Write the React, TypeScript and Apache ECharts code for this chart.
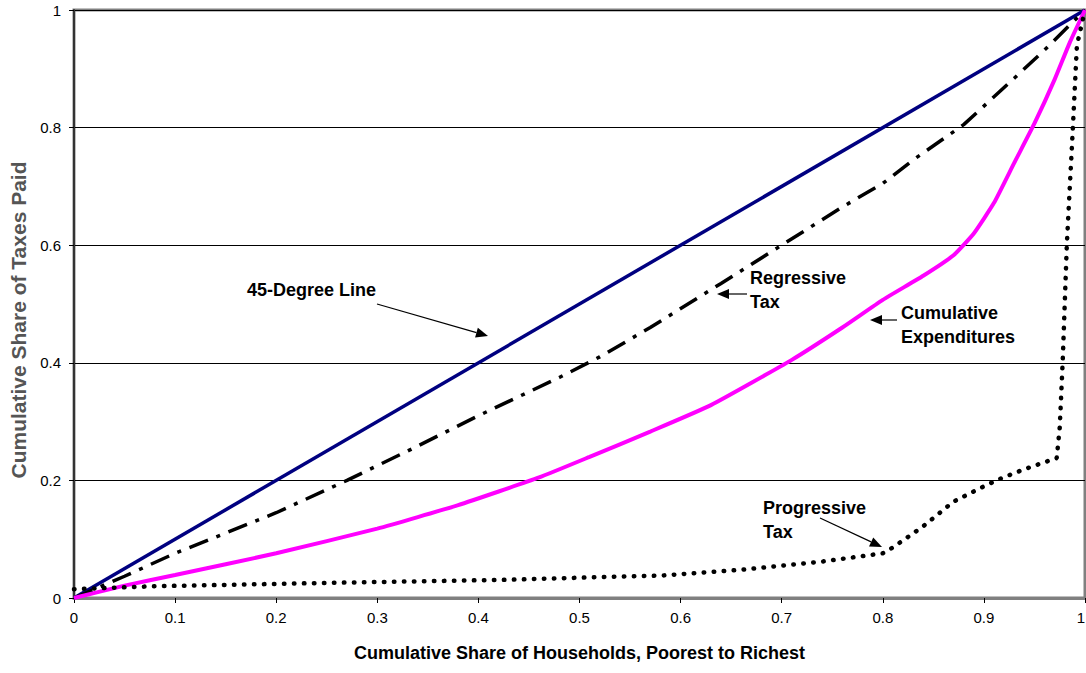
import React, { useEffect, useRef } from "react";
import * as echarts from "echarts";

const xTicks = [0, 0.1, 0.2, 0.3, 0.4, 0.5, 0.6, 0.7, 0.8, 0.9, 1];
const yTicks = [0, 0.2, 0.4, 0.6, 0.8, 1];

const diagX = [0, 1];
const diagY = [0, 1];

const regX = [0, 0.05, 0.1, 0.2, 0.27, 0.33, 0.4, 0.48, 0.52, 0.57, 0.64, 0.7, 0.76, 0.8, 0.83, 0.88, 0.93, 0.96, 1];
const regY = [0, 0.037, 0.076, 0.145, 0.2, 0.25, 0.31, 0.375, 0.41, 0.46, 0.535, 0.6, 0.665, 0.705, 0.745, 0.805, 0.884, 0.932, 1];

const expX = [0, 0.05, 0.1, 0.2, 0.3, 0.38, 0.46, 0.51, 0.57, 0.63, 0.71, 0.76, 0.8, 0.84, 0.87, 0.89, 0.91, 0.93, 0.95, 0.97, 0.985, 1];
const expY = [0, 0.021, 0.039, 0.076, 0.118, 0.158, 0.205, 0.24, 0.283, 0.328, 0.405, 0.46, 0.507, 0.548, 0.583, 0.62, 0.672, 0.74, 0.807, 0.882, 0.945, 1];

const progX = [0, 0.08, 0.26, 0.43, 0.51, 0.58, 0.66, 0.74, 0.8, 0.81, 0.84, 0.87, 0.9, 0.915, 0.94, 0.972, 0.975, 0.978, 0.982, 0.988, 0.992, 1];
const progY = [0.015, 0.02, 0.026, 0.031, 0.035, 0.038, 0.048, 0.062, 0.076, 0.086, 0.122, 0.164, 0.19, 0.202, 0.219, 0.238, 0.29, 0.405, 0.6, 0.8, 0.94, 1];

const xTitle = "Cumulative Share of Households, Poorest to Richest";
const yTitle = "Cumulative Share of Taxes Paid";

const FONT = "'Liberation Sans', Arial, sans-serif";

const pairs = (xs: number[], ys: number[]) => xs.map((x, i) => [x, ys[i]]);
const fmt = (v: number) => String(+v.toFixed(1));

function arrow(x1: number, y1: number, x2: number, y2: number) {
  const dx = x2 - x1, dy = y2 - y1;
  const len = Math.hypot(dx, dy);
  const ux = dx / len, uy = dy / len;
  const hl = 12, hw = 5;
  const bx = x2 - ux * hl, by = y2 - uy * hl;
  return [
    { type: "line", z: 100, shape: { x1, y1, x2: bx, y2: by }, style: { stroke: "#000", lineWidth: 1.2 } },
    {
      type: "polygon",
      z: 100,
      shape: { points: [[x2, y2], [bx - uy * hw, by + ux * hw], [bx + uy * hw, by - ux * hw]] },
      style: { fill: "#000" },
    },
  ];
}

function label(text: string, x: number, y: number) {
  return {
    type: "text",
    z: 100,
    x,
    y,
    style: {
      text,
      fill: "#000",
      font: `bold 18px ${FONT}`,
      lineHeight: 24,
      textAlign: "left",
      textVerticalAlign: "top",
    },
  };
}

export default function App() {
  const ref = useRef<HTMLDivElement>(null);
  useEffect(() => {
    if (!ref.current) return;
    const chart = echarts.init(ref.current, undefined, { renderer: "svg" });
    chart.setOption({
      animation: false,
      backgroundColor: "#fff",
      grid: {
        left: 74,
        right: 1,
        top: 10,
        bottom: 75,
        containLabel: false,
        outerBoundsMode: "none",
        show: true,
        borderColor: "#808080",
        borderWidth: 3,
        backgroundColor: "transparent",
      },
      xAxis: {
        type: "value",
        min: 0,
        max: 1,
        interval: 0.1,
        name: xTitle,
        nameLocation: "middle",
        nameGap: 46,
        nameTextStyle: { fontFamily: FONT, fontWeight: "bold", fontSize: 18, color: "#000" },
        axisLine: { show: true, lineStyle: { color: "#808080", width: 3 } },
        axisTick: { show: true, length: 5, lineStyle: { color: "#000", width: 1 } },
        axisLabel: { margin: 12, fontFamily: FONT, fontSize: 15, color: "#000", formatter: fmt, alignMaxLabel: "right" },
        splitLine: { show: false },
      },
      yAxis: {
        type: "value",
        min: 0,
        max: 1,
        interval: 0.2,
        axisLine: { show: true, lineStyle: { color: "#333", width: 2 } },
        axisTick: { show: true, length: 5, lineStyle: { color: "#000", width: 1 } },
        axisLabel: { margin: 13, fontFamily: FONT, fontSize: 15, color: "#000", formatter: fmt, padding: [7, 0, 0, 0] },
        splitLine: { show: true, lineStyle: { color: "#000", width: 1 } },
      },
      series: [
        {
          type: "line",
          name: "45-Degree Line",
          data: pairs(diagX, diagY),
          showSymbol: false,
          lineStyle: { color: "#000080", width: 3.5 },
          z: 3,
        },
        {
          type: "line",
          name: "Regressive Tax",
          data: pairs(regX, regY),
          showSymbol: false,
          lineStyle: { color: "#000", width: 3.5, type: [20, 9, 4, 9] },
          z: 4,
        },
        {
          type: "line",
          name: "Cumulative Expenditures",
          data: pairs(expX, expY),
          showSymbol: false,
          smooth: 0.15,
          lineStyle: { color: "#FF00FF", width: 4 },
          z: 5,
        },
        {
          type: "line",
          name: "Progressive Tax",
          data: pairs(progX, progY),
          showSymbol: false,
          lineStyle: { color: "#000", width: 4.5, type: [0.5, 9.5], cap: "round" },
          z: 6,
        },
      ],
      graphic: [
        {
          type: "text",
          x: 18,
          y: 320,
          rotation: Math.PI / 2,
          style: {
            text: yTitle,
            fill: "#555",
            font: `bold 21px ${FONT}`,
            textAlign: "center",
            textVerticalAlign: "middle",
          },
        },
        label("45-Degree Line", 247, 278),
        label("Regressive\nTax", 750, 266),
        label("Cumulative\nExpenditures", 901, 301),
        label("Progressive\nTax", 763, 496),
        ...arrow(377, 304, 488, 336),
        ...arrow(747, 294, 717, 294),
        ...arrow(897, 320, 870, 320),
        ...arrow(820, 518, 882, 547),
      ],
    });
    return () => chart.dispose();
  }, []);
  return <div ref={ref} style={{ position: "absolute", left: 0, top: 0, width: 1086, height: 673 }} />;
}
